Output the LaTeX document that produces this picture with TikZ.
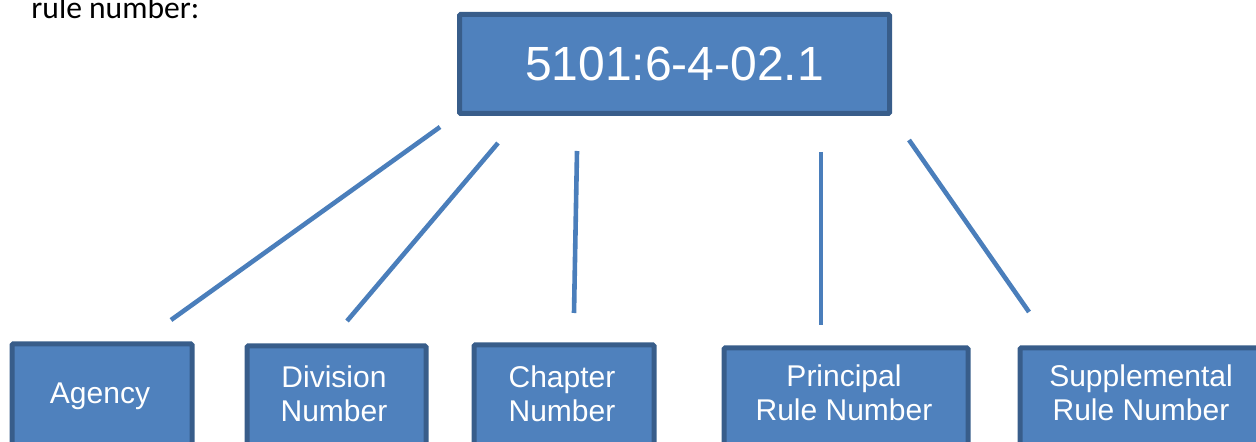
\documentclass[tikz,border=0pt]{standalone}
\usepackage{fontspec}
\setmainfont{Liberation Sans}
\newfontfamily\calfont{Carlito}
\definecolor{boxfill}{HTML}{4F81BD}
\definecolor{boxline}{HTML}{385D8A}
\definecolor{linkcol}{HTML}{4A7EBB}
\tikzset{
  box/.style={draw=boxline, fill=boxfill, line width=2.5pt, inner sep=0pt, rectangle, rounded corners=0.6pt},
  lbl/.style={text=white, inner sep=0pt, align=center, font=\fontsize{15pt}{17pt}\selectfont},
  link/.style={draw=linkcol, line width=2.3pt},
}
\begin{document}
\begin{tikzpicture}[x=0.5pt, y=-0.5pt]
\useasboundingbox (0,0) rectangle (1256,442);
\clip (0,0) rectangle (1256,442);
% intro text
\node[anchor=base west, inner sep=0pt, font=\calfont\fontsize{15.8pt}{18pt}\selectfont] (intro) at (31,19) {rule number:};
% top box
\node[box, minimum width=215pt, minimum height=49.5pt, text=white, font=\fontsize{24pt}{28pt}\selectfont] (top) at (674.5,64) {5101:6-4-02.1};
% bottom boxes
\node[box, anchor=north west, minimum width=90pt, minimum height=70pt] (agency) at (9.5,341.5) {};
\node[box, anchor=north west, minimum width=89.5pt, minimum height=70pt] (division) at (244.5,343.5) {};
\node[box, anchor=north west, minimum width=90pt, minimum height=70pt] (chapter) at (471.5,342.5) {};
\node[box, anchor=north west, minimum width=122pt, minimum height=70pt] (principal) at (721.5,345.5) {};
\node[box, anchor=north west, minimum width=150pt, minimum height=70pt] (supplemental) at (1017.5,345.5) {};
% labels
\node[lbl, anchor=base] (agencyT) at (100,404) {Agency};
\node[lbl, anchor=north] (divisionT) at (334,365) {Division\\Number};
\node[lbl, anchor=north] (chapterT) at (562,365) {Chapter\\Number};
\node[lbl, anchor=north] (principalT) at (844,364) {Principal\\Rule Number};
\node[lbl, anchor=north] (supplementalT) at (1141,364) {Supplemental\\Rule Number};
% connector end points
\coordinate (a1) at (440,127); \coordinate (a2) at (171,320);
\coordinate (b1) at (498,143); \coordinate (b2) at (347,321);
\coordinate (c1) at (577,151); \coordinate (c2) at (574,313);
\coordinate (d1) at (821,152); \coordinate (d2) at (821,325);
\coordinate (e1) at (909,140); \coordinate (e2) at (1029,312);
\draw[link] (a1) -- (a2);
\draw[link] (b1) -- (b2);
\draw[link] (c1) -- (c2);
\draw[link] (d1) -- (d2);
\draw[link] (e1) -- (e2);
\end{tikzpicture}
\end{document}
